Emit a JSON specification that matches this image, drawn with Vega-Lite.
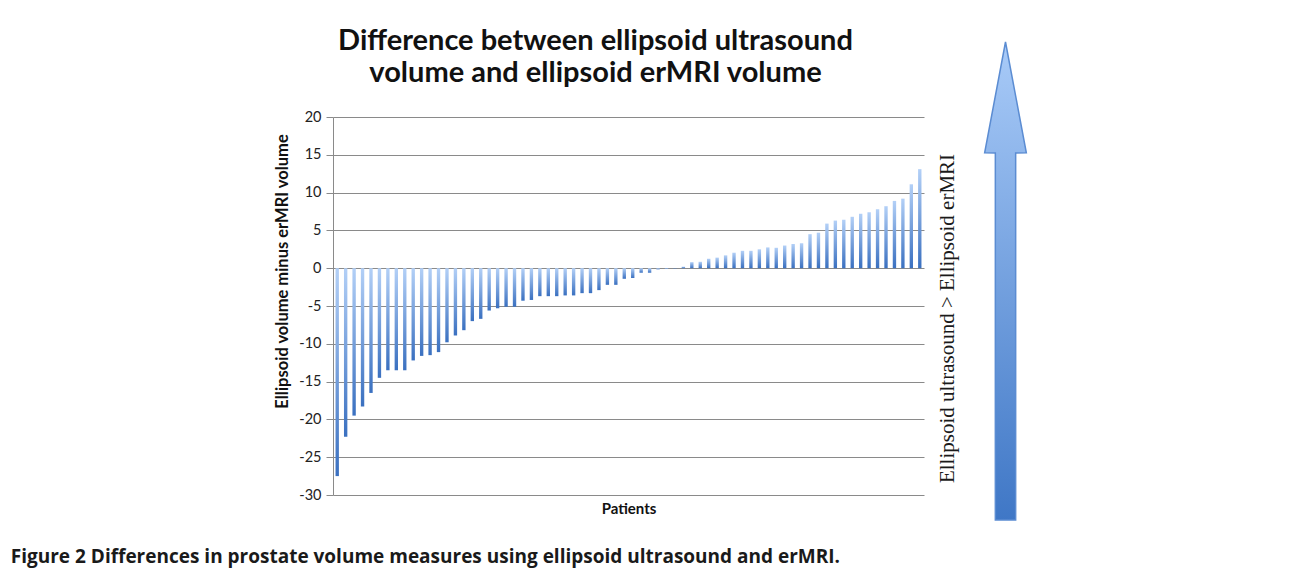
{
  "$schema": "https://vega.github.io/schema/vega-lite/v6.json",
  "background": "white",
  "padding": {"left": 10, "top": 27, "right": 10, "bottom": 5},
  "title": {
    "text": "Figure 2 Differences in prostate volume measures using ellipsoid ultrasound and erMRI.",
    "orient": "bottom",
    "anchor": "start",
    "font": "Open Sans",
    "fontSize": 19,
    "fontWeight": "bold",
    "color": "#1a1a1a",
    "offset": 25,
    "dx": -264
  },
  "spacing": 12,
  "datasets": {
    "diffs": [
      {"patient": 1, "diff": -27.5}, {"patient": 2, "diff": -22.3}, {"patient": 3, "diff": -19.5},
      {"patient": 4, "diff": -18.3}, {"patient": 5, "diff": -16.5}, {"patient": 6, "diff": -14.5},
      {"patient": 7, "diff": -13.5}, {"patient": 8, "diff": -13.5}, {"patient": 9, "diff": -13.5},
      {"patient": 10, "diff": -12.2}, {"patient": 11, "diff": -11.6}, {"patient": 12, "diff": -11.5},
      {"patient": 13, "diff": -11.1}, {"patient": 14, "diff": -9.8}, {"patient": 15, "diff": -8.9},
      {"patient": 16, "diff": -8.2}, {"patient": 17, "diff": -7.0}, {"patient": 18, "diff": -6.7},
      {"patient": 19, "diff": -5.6}, {"patient": 20, "diff": -5.3}, {"patient": 21, "diff": -5.1},
      {"patient": 22, "diff": -5.1}, {"patient": 23, "diff": -4.3}, {"patient": 24, "diff": -4.2},
      {"patient": 25, "diff": -3.7}, {"patient": 26, "diff": -3.7}, {"patient": 27, "diff": -3.7},
      {"patient": 28, "diff": -3.6}, {"patient": 29, "diff": -3.6}, {"patient": 30, "diff": -3.3},
      {"patient": 31, "diff": -3.3}, {"patient": 32, "diff": -2.9}, {"patient": 33, "diff": -2.2},
      {"patient": 34, "diff": -2.2}, {"patient": 35, "diff": -1.4}, {"patient": 36, "diff": -1.3},
      {"patient": 37, "diff": -0.6}, {"patient": 38, "diff": -0.6}, {"patient": 39, "diff": -0.15},
      {"patient": 40, "diff": -0.1}, {"patient": 41, "diff": -0.05}, {"patient": 42, "diff": 0.2},
      {"patient": 43, "diff": 0.8}, {"patient": 44, "diff": 0.85}, {"patient": 45, "diff": 1.25},
      {"patient": 46, "diff": 1.4}, {"patient": 47, "diff": 1.7}, {"patient": 48, "diff": 2.05},
      {"patient": 49, "diff": 2.3}, {"patient": 50, "diff": 2.3}, {"patient": 51, "diff": 2.5},
      {"patient": 52, "diff": 2.75}, {"patient": 53, "diff": 2.7}, {"patient": 54, "diff": 3.0},
      {"patient": 55, "diff": 3.2}, {"patient": 56, "diff": 3.3}, {"patient": 57, "diff": 4.5},
      {"patient": 58, "diff": 4.7}, {"patient": 59, "diff": 5.9}, {"patient": 60, "diff": 6.3},
      {"patient": 61, "diff": 6.4}, {"patient": 62, "diff": 6.8}, {"patient": 63, "diff": 7.2},
      {"patient": 64, "diff": 7.4}, {"patient": 65, "diff": 7.8}, {"patient": 66, "diff": 8.2},
      {"patient": 67, "diff": 8.9}, {"patient": 68, "diff": 9.2}, {"patient": 69, "diff": 11.1},
      {"patient": 70, "diff": 13.1}
    ],
    "arrow": [
      {"y": 0, "xl": -1.0, "xr": 1.0},
      {"y": 76.8, "xl": -1.0, "xr": 1.0},
      {"y": 76.81, "xl": -2.05, "xr": 2.05},
      {"y": 100, "xl": 0, "xr": 0}
    ]
  },
  "hconcat": [
    {
      "width": 591,
      "height": 378,
      "title": {
        "text": ["Difference between ellipsoid ultrasound", "volume and ellipsoid erMRI volume"],
        "font": "Lato",
        "fontSize": 29,
        "fontWeight": "bold",
        "color": "#111111",
        "lineHeight": 32,
        "anchor": "middle",
        "dx": -33,
        "offset": 21
      },
      "data": {"name": "diffs"},
      "mark": {
        "type": "bar",
        "color": {
          "gradient": "linear",
          "x1": 0, "y1": 0, "x2": 0, "y2": 1,
          "stops": [
            {"offset": 0, "color": "#b3d0f7"},
            {"offset": 1, "color": "#3a70c0"}
          ]
        }
      },
      "encoding": {
        "x": {
          "field": "patient",
          "type": "ordinal",
          "sort": null,
          "scale": {"paddingInner": 0.6, "paddingOuter": 0.3},
          "axis": {
            "labels": false,
            "ticks": false,
            "domain": false,
            "title": "Patients",
            "titleFont": "Lato",
            "titleFontSize": 15,
            "titleFontWeight": "bold",
            "titleColor": "#111111",
            "titlePadding": 6
          }
        },
        "y": {
          "field": "diff",
          "type": "quantitative",
          "scale": {"domain": [-30, 20], "nice": false},
          "axis": {
            "values": [-30, -25, -20, -15, -10, -5, 0, 5, 10, 15, 20],
            "labelExpr": "'' + datum.value",
            "grid": true,
            "gridColor": "#8a8a8a",
            "gridWidth": 1,
            "domainColor": "#8a8a8a",
            "tickColor": "#8a8a8a",
            "tickSize": 7,
            "labelFont": "Lato",
            "labelFontSize": 14.5,
            "labelColor": "#222222",
            "labelPadding": 5,
            "title": "Ellipsoid volume minus erMRI volume",
            "titleFont": "Lato",
            "titleFontSize": 16.5,
            "titleFontWeight": "bold",
            "titleColor": "#111111",
            "titlePadding": 8,
            "titleY": 154
          }
        }
      }
    },
    {
      "width": 61,
      "height": 378,
      "data": {"name": "arrow"},
      "mark": {
        "type": "area",
        "orient": "horizontal",
        "stroke": "#5b8cd2",
        "strokeWidth": 1.5,
        "color": {
          "gradient": "linear",
          "x1": 0, "y1": 0, "x2": 0, "y2": 1,
          "stops": [
            {"offset": 0, "color": "#a9cbf8"},
            {"offset": 1, "color": "#3f77c6"}
          ]
        }
      },
      "encoding": {
        "y": {
          "field": "y",
          "type": "quantitative",
          "scale": {"domain": [5.23, 84.31], "nice": false, "zero": false},
          "axis": {
            "labels": false,
            "ticks": false,
            "domain": false,
            "grid": false,
            "title": "Ellipsoid ultrasound > Ellipsoid erMRI",
            "titleFont": "Liberation Serif",
            "titleFontSize": 21,
            "titleFontWeight": "normal",
            "titleColor": "#1a1a1a",
            "titlePadding": 18,
            "titleY": 201
          }
        },
        "x": {
          "field": "xl",
          "type": "quantitative",
          "scale": {"domain": [-3, 3], "nice": false},
          "axis": null
        },
        "x2": {"field": "xr"}
      }
    }
  ],
  "config": {
    "view": {"stroke": null}
  }
}
